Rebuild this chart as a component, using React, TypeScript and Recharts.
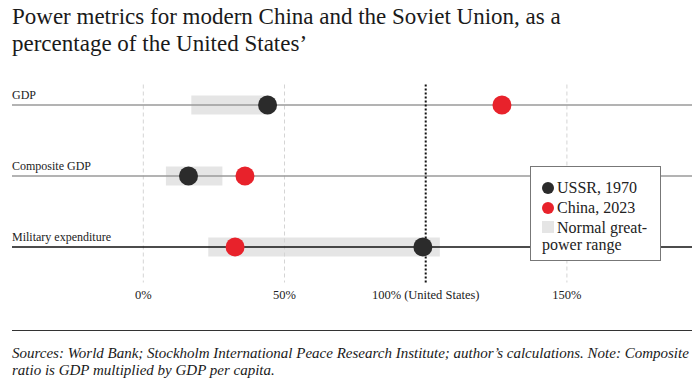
import { Bar, ComposedChart, Legend, Line, ReferenceLine, XAxis, YAxis } from "recharts"

const rows = ["GDP", "Composite GDP", "Military expenditure"]
const rangeLow = [17, 8, 23]
const rangeHigh = [45, 28, 105]
const ussr1970 = [44, 16, 99]
const china2023 = [127, 36, 32.5]
const tickValues = [0, 50, 100, 150]
const tickNames = ["0%", "50%", "100% (United States)", "150%"]

const data = rows.map((name, i) => ({
  name,
  range: [rangeLow[i], rangeHigh[i]],
  ussr: ussr1970[i],
  china: china2023[i],
}))

const serif = "'Liberation Serif', 'DejaVu Serif', serif"
const INK = "#2b2b2b"
const RED = "#e8222b"
const RANGE = "#e5e5e5"

const rowLabel = (text: string) => (props: any) => {
  const { viewBox } = props
  return (
    <text x={viewBox.x} y={viewBox.y - 6} fontFamily={serif} fontSize={12} fill="#222">
      {text}
    </text>
  )
}

const gridShape = (dotted: boolean) => (props: any) => {
  const { x1, x2, y1, y2 } = props
  const top = Math.min(y1, y2) + 15
  const bottom = Math.max(y1, y2)
  return (
    <line
      x1={x1}
      x2={x2}
      y1={top}
      y2={bottom}
      stroke={dotted ? "#111" : "#d4d4d4"}
      strokeWidth={dotted ? 2 : 1}
      strokeDasharray={dotted ? "2 2" : "4 3"}
    />
  )
}

function LegendBox() {
  const item = { display: "flex", alignItems: "center", lineHeight: "20px" }
  return (
    <div
      style={{
        border: "1px solid #777",
        background: "#fff",
        width: 110,
        padding: "11px 8px 7px 11px",
        fontFamily: serif,
        fontSize: 16,
        color: "#222",
      }}
    >
      <div style={item}>
        <span style={{ width: 12, height: 12, borderRadius: 6, background: INK, marginRight: 3 }} />
        USSR, 1970
      </div>
      <div style={item}>
        <span style={{ width: 12, height: 12, borderRadius: 6, background: RED, marginRight: 3 }} />
        China, 2023
      </div>
      <div style={{ lineHeight: "17px", marginTop: 1 }}>
        <span style={{ display: "inline-block", width: 12, height: 12, background: RANGE, marginRight: 3 }} />
        Normal great-power range
      </div>
    </div>
  )
}

export default function App() {
  return (
    <div style={{ position: "absolute", left: 0, top: 0, width: 698, height: 388, background: "#fff" }}>
      <div
        style={{
          position: "absolute",
          left: 12,
          top: 3,
          width: 640,
          fontFamily: serif,
          fontSize: 23,
          lineHeight: "27px",
          color: "#1a1a1a",
        }}
      >
        Power metrics for modern China and the Soviet Union, as a percentage of the United States’
      </div>
      <ComposedChart
        width={698}
        height={388}
        data={data}
        layout="vertical"
        margin={{ top: 69.5, right: 6, bottom: 75.5, left: 12 }}
      >
        <XAxis
          type="number"
          domain={[-46.5, 194.3]}
          ticks={tickValues}
          allowDataOverflow
          height={30}
          axisLine={false}
          tickLine={false}
          tick={{ fontFamily: serif, fontSize: 12.5, fill: "#222" }}
          tickFormatter={(v) => tickNames[tickValues.indexOf(v)]}
        />
        <YAxis type="category" dataKey="name" width={0} hide />
        <ReferenceLine x={0} shape={gridShape(false)} />
        <ReferenceLine x={50} shape={gridShape(false)} />
        <ReferenceLine x={150} shape={gridShape(false)} />
        <ReferenceLine y={rows[0]} stroke="#9a9a9a" strokeWidth={1.5} label={rowLabel(rows[0])} />
        <ReferenceLine y={rows[1]} stroke="#9a9a9a" strokeWidth={1.5} label={rowLabel(rows[1])} />
        <ReferenceLine y={rows[2]} stroke="#111" strokeWidth={1.5} label={rowLabel(rows[2])} />
        <Bar dataKey="range" fill={RANGE} barSize={19} isAnimationActive={false} />
        <ReferenceLine x={100} shape={gridShape(true)} />
        <Line
          dataKey="ussr"
          stroke="none"
          dot={{ r: 9.5, fill: INK, stroke: "none" }}
          activeDot={false}
          isAnimationActive={false}
        />
        <Line
          dataKey="china"
          stroke="none"
          dot={{ r: 9.5, fill: RED, stroke: "none" }}
          activeDot={false}
          isAnimationActive={false}
        />
        <Legend
          layout="vertical"
          verticalAlign="middle"
          align="center"
          content={() => <LegendBox />}
          wrapperStyle={{ position: "absolute", left: 530, top: 166, width: "auto" }}
        />
      </ComposedChart>
      <div style={{ position: "absolute", left: 12, top: 330, width: 680, borderTop: "1.5px solid #333" }} />
      <div
        style={{
          position: "absolute",
          left: 12,
          top: 345,
          width: 686,
          fontFamily: serif,
          fontStyle: "italic",
          fontSize: 15,
          lineHeight: "17px",
          color: "#1a1a1a",
        }}
      >
        Sources: World Bank; Stockholm International Peace Research Institute; author’s calculations. Note: Composite
        ratio is GDP multiplied by GDP per capita.
      </div>
    </div>
  )
}
